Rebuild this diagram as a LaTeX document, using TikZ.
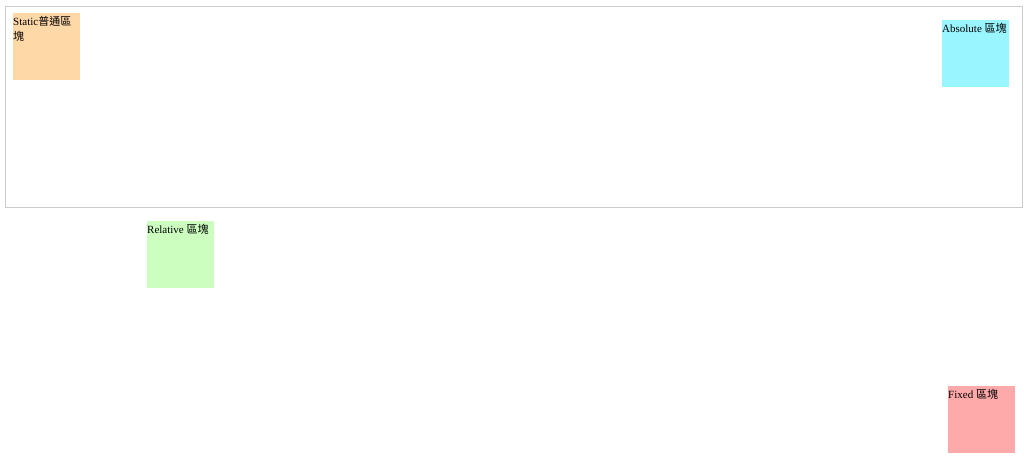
\documentclass[tikz,border=0pt]{standalone}
\usepackage{fontspec}
\setmainfont{Liberation Serif}
\newfontfamily\cjk{Noto Sans CJK TC}
\usetikzlibrary{positioning}
\definecolor{staticc}{HTML}{FFD8A8}
\definecolor{absolutec}{HTML}{99F5FF}
\definecolor{relativec}{HTML}{CCFFBF}
\definecolor{fixedc}{HTML}{FFAAAA}
\definecolor{framec}{HTML}{CCCCCC}
\tikzset{box/.style = {draw=none, minimum width=67pt, minimum height=67pt, inner sep=0pt, anchor=north west}}
\tikzset{boxlabel/.style = {anchor=north west, inner sep=0pt, align=left, font=\fontsize{11}{15}\selectfont}}

\begin{document}
\begin{tikzpicture}[x=1pt, y=-1pt]
\useasboundingbox [fill=white] (0,0) rectangle (1024,460);
\draw [framec, line width=1pt] (5.5,6.5) rectangle (1022.5,207.5);
\node [box, fill=staticc] (static) at (13,13) {};
\node [box, fill=absolutec] (absolute) at (942,20) {};
\node [box, fill=relativec] (relative) at (147,221) {};
\node [box, fill=fixedc] (fixed) at (948,386) {};
\node [boxlabel] (staticlbl) at ([yshift=-3pt]static.north west) {Static{\cjk 普通區}\\{\cjk 塊}};
\node [boxlabel] (absolutelbl) at ([yshift=-3pt]absolute.north west) {Absolute {\cjk 區塊}};
\node [boxlabel] (relativelbl) at ([yshift=-3pt]relative.north west) {Relative {\cjk 區塊}};
\node [boxlabel] (fixedlbl) at ([yshift=-3pt]fixed.north west) {Fixed {\cjk 區塊}};
\end{tikzpicture}
\end{document}
